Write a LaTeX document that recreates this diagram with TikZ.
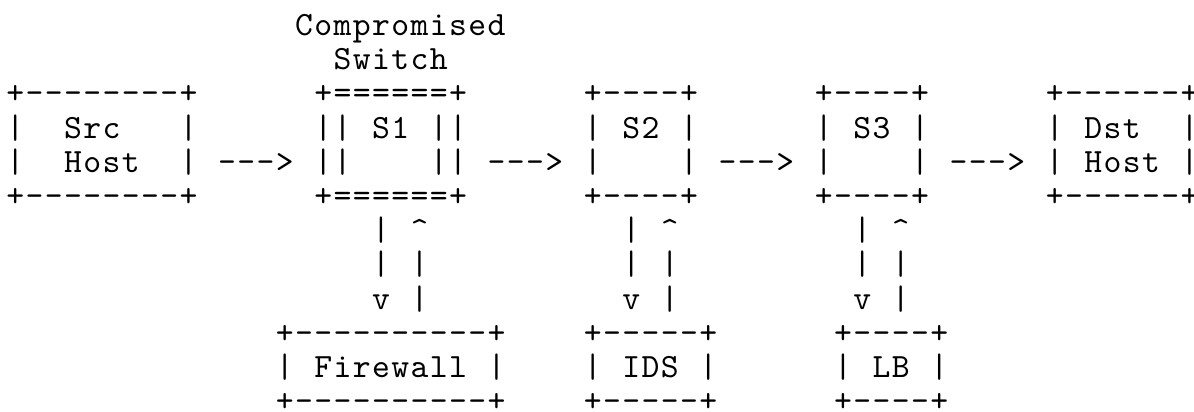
\documentclass[tikz,border=0pt]{standalone}
\usepackage{tikz}
\usetikzlibrary{positioning}
\definecolor{asciiink}{RGB}{0, 0, 0}
% monospaced grid font: 19.25pt per character, 34.2pt per line
\font\asciibase="[lmmono10-regular]:letterspace=4.118" at 34pt
\newcommand{\asciifont}{\asciibase\baselineskip=34.2pt\lineskiplimit=-\maxdimen}
\newcommand{\tallstrut}{\rule{0pt}{1em}}
\newcommand{\nb}{^^^^00a0}

\begin{document}
\begin{tikzpicture}[
    x=19.25pt, y=-34.2pt,
    ascii/.style={inner sep=0pt, outer sep=0pt, anchor=north west, align=left, font=\asciifont, text=asciiink, xshift=6.4pt, yshift=-1.5pt}
]
\useasboundingbox (0pt,0pt) rectangle (1194pt,-412pt);

% Titlu deasupra lui S1
\node[ascii] (title) at (15,0) {\tallstrut Compromised\\\nb\nb Switch};

% Rândul de sus: Src -> S1 -> S2 -> S3 -> Dst
\node[ascii] (src) at (0,2) {\tallstrut +--------+\\|\nb\nb Src\nb\nb\nb|\\|\nb\nb Host\nb\nb|\\+--------+};
\node[ascii] (sone) at (16,2) {\tallstrut +======+\\||\nb S1\nb||\\||\nb\nb\nb\nb||\\+======+};
\node[ascii] (stwo) at (30,2) {\tallstrut +----+\\|\nb S2\nb|\\|\nb\nb\nb\nb|\\+----+};
\node[ascii] (sthree) at (42,2) {\tallstrut +----+\\|\nb S3\nb|\\|\nb\nb\nb\nb|\\+----+};
\node[ascii] (dst) at (54,2) {\tallstrut +------+\\|\nb Dst\nb\nb|\\|\nb Host\nb|\\+------+};

% Săgeți orizontale
\node[ascii] (srctoone) at (11,4) {\tallstrut --->};
\node[ascii] (onetotwo) at (25,4) {\tallstrut --->};
\node[ascii] (twotothree) at (37,4) {\tallstrut --->};
\node[ascii] (threetodst) at (49,4) {\tallstrut --->};

% Legături verticale (dus și întors)
\node[ascii] (fwdown) at (19,6) {\tallstrut |\\|\\v};
\node[ascii] (fwup) at (21,6) {\tallstrut \textasciicircum\\|\\|};
\node[ascii] (idsdown) at (32,6) {\tallstrut |\\|\\v};
\node[ascii] (idsup) at (34,6) {\tallstrut \textasciicircum\\|\\|};
\node[ascii] (lbdown) at (44,6) {\tallstrut |\\|\\v};
\node[ascii] (lbup) at (46,6) {\tallstrut \textasciicircum\\|\\|};

% Rândul de jos: Firewall, IDS, LB
\node[ascii] (fw) at (14,9) {\tallstrut +----------+\\|\nb Firewall\nb|\\+----------+};
\node[ascii] (ids) at (30,9) {\tallstrut +-----+\\|\nb IDS\nb|\\+-----+};
\node[ascii] (lb) at (43,9) {\tallstrut +----+\\|\nb LB\nb|\\+----+};

\end{tikzpicture}
\end{document}
